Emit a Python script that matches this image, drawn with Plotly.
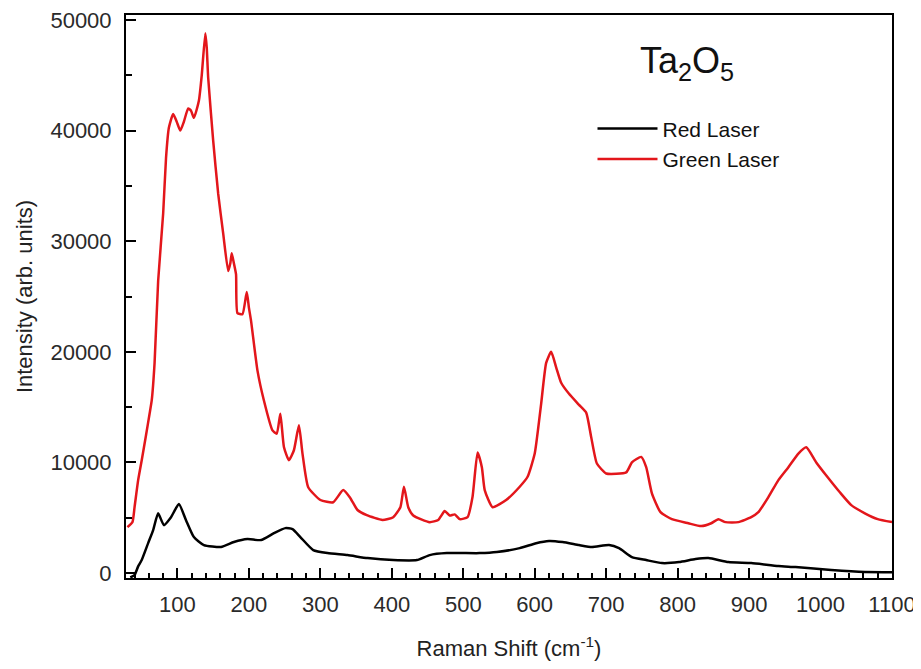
import plotly.graph_objects as go

# Green laser (red curve)
green_x = [30, 37, 40, 45, 50, 56, 61, 64, 68, 73, 80, 84, 88, 94, 99, 104, 109, 115, 119, 123,
           130, 134, 139, 141, 143, 150, 157, 164, 171, 174, 176, 179, 182, 184, 191, 197, 200, 203,
           212, 221, 233, 239, 244, 249, 256, 263, 270, 275, 283, 300, 318, 332, 342, 352, 365, 387,
           402, 412, 417, 423, 430, 453, 465, 474, 481, 488, 495, 506, 513, 520, 526, 530, 541, 560,
           579, 590, 600, 609, 616, 623, 630, 637, 648, 662, 672, 679, 687, 700, 728, 736, 749, 756,
           764, 776, 792, 815, 833, 847, 857, 867, 885, 903, 913, 927, 941, 955, 969, 980, 994, 1010,
           1027, 1043, 1062, 1080, 1100]
green_y = [4150, 4600, 5960, 8400, 10200, 12450, 14400, 15600, 19000, 26400, 32500, 37500, 40250,
           41500, 40800, 40000, 40800, 42000, 41800, 41150, 42700, 45000, 48800, 47500, 44800, 39100,
           34300, 30700, 27300, 28000, 28900, 28000, 27000, 23500, 23400, 25400, 24000, 22800, 18300,
           15600, 12900, 12600, 14400, 11400, 10200, 11100, 13350, 10800, 7760, 6600, 6400, 7500,
           6770, 5700, 5230, 4800, 5050, 5950, 7800, 5950, 5200, 4600, 4800, 5600, 5200, 5300, 4870,
           5050, 6900, 10900, 9570, 7500, 5950, 6600, 7800, 8700, 10800, 15300, 19000, 20000, 18600,
           17200, 16200, 15200, 14500, 12300, 9900, 9000, 9100, 10000, 10500, 9570, 7200, 5500, 4870,
           4500, 4240, 4500, 4870, 4600, 4600, 5050, 5500, 6860, 8400, 9570, 10800, 11370, 10000,
           8660, 7300, 6140, 5400, 4870, 4600]

# Red laser (black curve)
red_x = [34, 40, 45, 50, 59, 66, 73, 81, 91, 102, 112, 123, 137, 161, 179, 198, 217, 235, 251, 261,
         272, 290, 310, 338, 366, 402, 435, 453, 477, 523, 547, 579, 602, 620, 639, 662, 680, 704,
         718, 736, 756, 778, 802, 825, 843, 871, 903, 941, 965, 1015, 1062, 1100]
red_y = [-400, -180, 600, 1170, 2700, 3880, 5400, 4330, 5050, 6230, 4780, 3250, 2530, 2350, 2800,
         3070, 2980, 3600, 4060, 3970, 3250, 2075, 1800, 1620, 1350, 1170, 1170, 1620, 1800, 1800,
         1900, 2250, 2700, 2900, 2800, 2530, 2350, 2530, 2250, 1440, 1170, 900, 990, 1260, 1350, 990,
         900, 630, 540, 270, 90, 80]

x_ticks = [100, 200, 300, 400, 500, 600, 700, 800, 900, 1000, 1100]
y_ticks = [0, 10000, 20000, 30000, 40000, 50000]

FONT = "Liberation Sans, Arial, sans-serif"

fig = go.Figure()
fig.add_trace(go.Scatter(x=red_x, y=red_y, mode="lines", name="Red Laser",
                         line=dict(color="black", width=2.5, shape="spline", smoothing=0.5)))
fig.add_trace(go.Scatter(x=green_x, y=green_y, mode="lines", name="Green Laser",
                         line=dict(color="#e3161b", width=2.5, shape="spline", smoothing=0.5)))

fig.add_annotation(text="Ta<sub>2</sub>O<sub>5</sub>", xref="paper", yref="paper",
                   x=0.732, y=0.915, xanchor="center", yanchor="middle", showarrow=False,
                   font=dict(family=FONT, size=36, color="#111"))

axis_common = dict(showline=True, linecolor="black", linewidth=2, mirror=True,
                   ticks="inside", ticklen=10, tickwidth=2, tickcolor="black",
                   showgrid=False, zeroline=False, automargin=False,
                   ticklabeloverflow="allow",
                   tickfont=dict(family=FONT, size=22, color="#2a2a2a"))

fig.update_xaxes(range=[28, 1100], tickvals=x_ticks, ticktext=[str(v) for v in x_ticks],
                 minor=dict(dtick=20, tick0=0, ticks="inside", ticklen=5, tickwidth=2,
                            tickcolor="black"),
                 title=dict(text="Raman Shift (cm<sup>-1</sup>)",
                            font=dict(family=FONT, size=22, color="#222"), standoff=24),
                 ticklabelstandoff=6, **axis_common)
fig.update_yaxes(range=[-450, 50450], tickvals=y_ticks, ticktext=[str(v) for v in y_ticks],
                 minor=dict(dtick=5000, tick0=0, ticks="inside", ticklen=6, tickwidth=2,
                            tickcolor="black"),
                 title=dict(text="Intensity (arb. units)",
                            font=dict(family=FONT, size=22, color="#222"), standoff=12),
                 ticklabelstandoff=8, **axis_common)

# page body adds an 8px offset, so the figure is 8px smaller and margins shifted
fig.update_layout(width=913, height=661,
                  margin=dict(l=118, r=29, t=7, b=91),
                  plot_bgcolor="white", paper_bgcolor="white",
                  showlegend=True,
                  legend=dict(x=0.609, y=0.834, xanchor="left", yanchor="top",
                              bgcolor="rgba(0,0,0,0)", itemwidth=60,
                              font=dict(family=FONT, size=21, color="#111"),
                              tracegroupgap=0))

fig.write_html("out.html")
